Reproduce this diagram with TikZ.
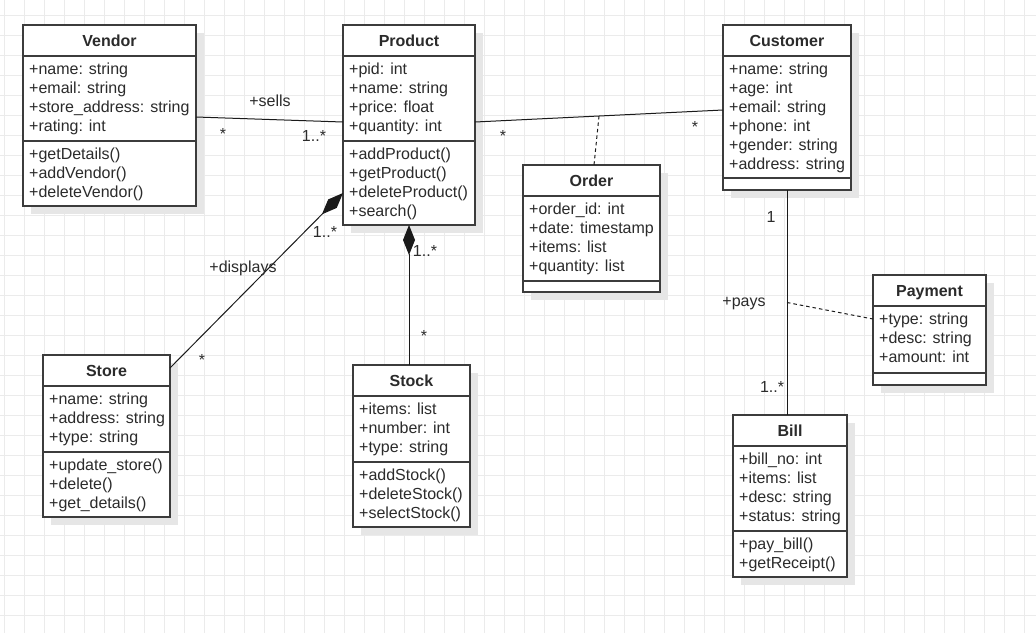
\documentclass[tikz,border=0pt]{standalone}
\usepackage{fontspec}
\setmainfont{Liberation Sans}
\usetikzlibrary{arrows.meta,calc}
\definecolor{gridc}{HTML}{EBEBEB}
\definecolor{shadowc}{HTML}{E6E6E6}
\definecolor{linec}{HTML}{3C3C3C}
\definecolor{textc}{HTML}{2B2B2B}
\definecolor{connc}{HTML}{1A1A1A}
\tikzset{
  classbox/.style={draw=linec, line width=1.5pt, fill=white, inner sep=0pt, outer sep=0pt},
  sepline/.style={draw=linec, line width=1.3pt},
  titletext/.style={font=\fontsize{16}{19}\selectfont\bfseries, text=textc, anchor=base, inner sep=0pt},
  membertext/.style={font=\fontsize{16}{19}\selectfont, text=textc, anchor=base west, inner sep=0pt},
  conn/.style={draw=connc, line width=1pt},
  dashconn/.style={draw=connc, line width=1pt, dash pattern=on 3.5pt off 3pt},
  lbl/.style={font=\fontsize{16}{19}\selectfont, text=textc, inner sep=0pt, anchor=base},
  comp/.style={conn, -{Diamond[length=30pt,width=12pt]}},
}
% #1 name, #2 left, #3 top, #4 width, #5 height, #6 separator offset, #7 title
\newcommand\umlclass[7]{%
  \fill[shadowc] (#2+8,#3+8) rectangle ++(#4,#5);
  \node[classbox, minimum width=#4pt, minimum height=#5pt, anchor=north west] (#1) at (#2,#3) {};
  \draw[sepline] ([yshift=-31pt]#1.north west) -- ([yshift=-31pt]#1.north east);
  \draw[sepline] ([yshift=-#6pt]#1.north west) -- ([yshift=-#6pt]#1.north east);
  \node[titletext] (#1-title) at ([yshift=-21pt]#1.north) {#7};
}
% #1 class name, #2 prefix, #3 first baseline offset from top, #4 list
\newcommand\umlmembers[4]{%
  \foreach \s [count=\i] in {#4}{%
    \pgfmathsetmacro\yy{-(#3+19*(\i-1))}%
    \node[membertext] (#1-#2\i) at ([xshift=6pt, yshift=\yy pt]#1.north west) {\s};
  }%
}
\begin{document}
\begin{tikzpicture}[x=1pt,y=-1pt]
\useasboundingbox (0,0) rectangle (1036,633);
\fill[white] (0,0) rectangle (1036,633);
\foreach \x in {4,24,...,1024} \draw[gridc, line width=1pt] (\x,0) -- (\x,633);
\foreach \y in {15,35,...,615} \draw[gridc, line width=1pt] (0,\y) -- (1036,\y);

\umlclass{vendor}{23}{25}{173}{181}{116}{Vendor}
\umlmembers{vendor}{a}{49}{+name: string,+email: string,+store\_address: string,+rating: int}
\umlmembers{vendor}{m}{134}{+getDetails(),+addVendor(),+deleteVendor()}

\umlclass{product}{343}{25}{132}{200}{116}{Product}
\umlmembers{product}{a}{49}{+pid: int,+name: string,+price: float,+quantity: int}
\umlmembers{product}{m}{134}{+addProduct(),+getProduct(),+deleteProduct(),+search()}

\umlclass{customer}{723}{25}{128}{165}{153}{Customer}
\umlmembers{customer}{a}{49}{+name: string,+age: int,+email: string,+phone: int,+gender: string,+address: string}

\umlclass{order}{523}{165}{137}{127}{116}{Order}
\umlmembers{order}{a}{49}{+order\_id: int,+date: timestamp,+items: list,+quantity: list}

\umlclass{store}{43}{355}{127}{162}{97}{Store}
\umlmembers{store}{a}{49}{+name: string,+address: string,+type: string}
\umlmembers{store}{m}{115}{+update\_store(),+delete(),+get\_details()}

\umlclass{stock}{353}{365}{117}{162}{97}{Stock}
\umlmembers{stock}{a}{49}{+items: list,+number: int,+type: string}
\umlmembers{stock}{m}{115}{+addStock(),+deleteStock(),+selectStock()}

\umlclass{payment}{873}{275}{113}{110}{98}{Payment}
\umlmembers{payment}{a}{49}{+type: string,+desc: string,+amount: int}

\umlclass{bill}{733}{415}{114}{162}{116}{Bill}
\umlmembers{bill}{a}{49}{+bill\_no: int,+items: list,+desc: string,+status: string}
\umlmembers{bill}{m}{134}{+pay\_bill(),+getReceipt()}

% connectors
\draw[conn] ([yshift=-1.5pt]vendor.east) -- ([yshift=3pt]product.west);
\draw[conn] ([yshift=3pt]product.east) -- coordinate[pos=0.5] (orderc) ([yshift=-2.5pt]customer.west);
\draw[dashconn] (orderc) -- ([xshift=2.5pt]order.north);
\draw[comp] ([yshift=-13pt]store.north east) -- ([yshift=-168pt]product.north west);
\draw[comp] (stock.north -| product.south) -- (product.south);
\draw[conn] (customer.south) -- coordinate[pos=0.5] (paysc) (customer.south |- bill.north);
\draw[dashconn] (paysc) -- ([yshift=11pt]payment.west);

% labels
\node[lbl] (l-sells) at (270,106) {+sells};
\node[lbl] (l-vs1) at (223,139) {*};
\node[lbl] (l-vs2) at (314,141) {1..*};
\node[lbl] (l-pc1) at (503,141) {*};
\node[lbl] (l-pc2) at (695,132) {*};
\node[lbl] (l-disp) at (243,272) {+displays};
\node[lbl] (l-sp1) at (202,365) {*};
\node[lbl] (l-sp2) at (325,237) {1..*};
\node[lbl] (l-st1) at (425,256) {1..*};
\node[lbl] (l-st2) at (424,341) {*};
\node[lbl] (l-cb1) at (771,222) {1};
\node[lbl] (l-cb2) at (772,392) {1..*};
\node[lbl] (l-pays) at (744,306) {+pays};
\end{tikzpicture}
\end{document}
